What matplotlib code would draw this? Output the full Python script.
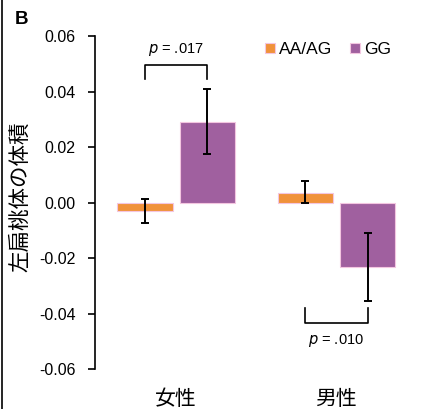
import matplotlib
matplotlib.use("Agg")
import matplotlib.pyplot as plt
import numpy as np

plt.rcParams['font.family'] = ['Liberation Sans', 'Noto Sans CJK JP', 'DejaVu Sans']

groups = ['女性', '男性']
series = ['AA/AG', 'GG']
means = {'AA/AG': [-0.0032, 0.0036], 'GG': [0.0292, -0.0234]}
err_lo = {'AA/AG': [-0.0075, 0.0000], 'GG': [0.0175, -0.0355]}
err_hi = {'AA/AG': [0.0012, 0.0077], 'GG': [0.0410, -0.0110]}
colors = {'AA/AG': '#F0923A', 'GG': '#A0609F'}
yticks = [-0.06, -0.04, -0.02, 0.00, 0.02, 0.04, 0.06]
p_labels = ['p = .017', 'p = .010']

fig = plt.figure(figsize=(4.23, 4.09), dpi=100)
ax = fig.add_axes([0.2246, 0.0978, 0.7754, 0.814])

x = np.arange(len(groups))
off = 0.194
w = 0.344
for i, s in enumerate(series):
    xs = x + (-off if i == 0 else off)
    m = np.array(means[s])
    lo = np.array(err_lo[s]); hi = np.array(err_hi[s])
    ax.bar(xs, m, width=w, color=colors[s], edgecolor='#F3C6E0', linewidth=0.8, label=s, zorder=2)
    ax.errorbar(xs, (lo + hi) / 2, yerr=(hi - lo) / 2, fmt='none', ecolor='black',
                elinewidth=1.4, capsize=3, capthick=1.4, zorder=3)

# significance brackets
xa, xb = x[0] - off, x[0] + off
ax.plot([xa, xa, xb, xb], [0.0445, 0.0495, 0.0495, 0.0445], color='black', lw=1.2, clip_on=False)
ax.text(x[0], 0.0550, '$p$ = .017', ha='center', va='center', fontsize=10.5)
xa, xb = x[1] - off, x[1] + off
ax.plot([xa, xa, xb, xb], [-0.038, -0.0435, -0.0435, -0.038], color='black', lw=1.2, clip_on=False)
ax.text(x[1], -0.0497, '$p$ = .010', ha='center', va='center', fontsize=10.5)

ax.set_ylim(-0.06, 0.06)
ax.set_xlim(-0.506, 1.54)
ax.set_yticks(yticks)
ax.set_yticklabels([f'{v:.2f}' for v in yticks], fontsize=11.5)
ax.tick_params(axis='y', direction='out', length=5, width=1.2, pad=9)
ax.set_xticks([])
for sp in ['top', 'right', 'bottom']:
    ax.spines[sp].set_visible(False)
ax.spines['left'].set_linewidth(1.2)

for gi, g in enumerate(groups):
    ax.text(x[gi], -0.0707, g, ha='center', va='center', fontsize=15,
            family=['Noto Sans CJK JP', 'DejaVu Sans'])

fig.text(0.047, 0.518, '左扁桃体の体積', rotation=90, ha='center', va='center', fontsize=15.5,
         family=['Noto Sans CJK JP', 'DejaVu Sans'])
fig.text(0.051, 0.952, 'B', ha='center', va='center', fontsize=13.5, fontweight='bold')

fig.add_artist(plt.Line2D([0.005, 0.005], [0, 1], color='black', lw=1.2, transform=fig.transFigure))

leg = fig.legend(*ax.get_legend_handles_labels(), loc='center left',
                 bbox_to_anchor=(265 / 423, 1 - 50 / 409), ncol=2, frameon=False,
                 fontsize=12.5, handlelength=0.55, handleheight=0.5, handletextpad=0.25,
                 columnspacing=1.05, borderpad=0, borderaxespad=0)

fig.savefig('out.png', dpi=100)
